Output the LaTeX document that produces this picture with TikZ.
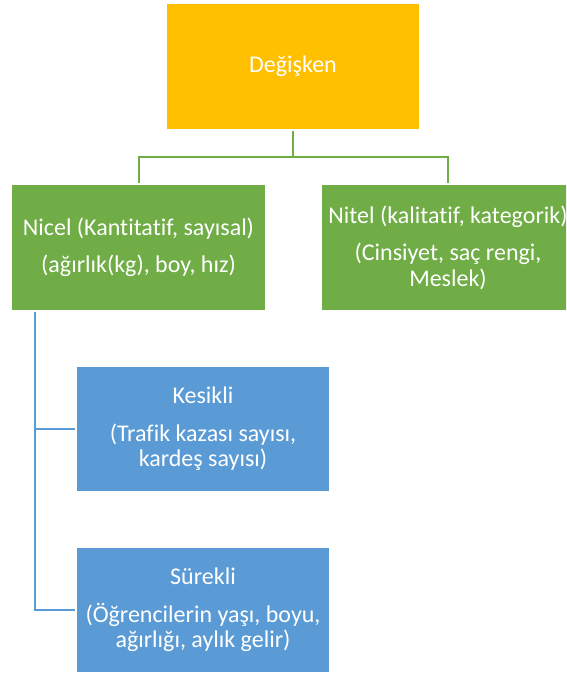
\documentclass[tikz,border=0pt]{standalone}
\usepackage{fontspec}
\setmainfont{Carlito}[Ligatures=NoCommon]
\usepackage{tikz}

\definecolor{sari}{HTML}{FFC000}
\definecolor{yesil}{HTML}{70AD47}
\definecolor{mavi}{HTML}{5B9BD5}

\tikzset{
  kutu/.style={minimum width=252pt, minimum height=125pt, inner sep=0pt,
    outer sep=2pt, text=white, align=center,
    font=\fontsize{24}{25.5}\selectfont},
  baglanti/.style={line width=2pt}
}

\begin{document}
\begin{tikzpicture}[x=1pt,y=-1pt]
\clip (0,0) rectangle (566,675);
\path (293,66.5) node [kutu, fill=sari] (deg) {De\u{g}i\c{s}ken}
		(138.5,247.5) node [kutu, fill=yesil, minimum width=253pt] (nicel) {Nicel (Kantitatif, say\i{}sal)\\[12pt](a\u{g}\i{}rl\i{}k(kg), boy, h\i{}z)}
		(448,247.5) node [kutu, fill=yesil] (nitel) {Nitel (kalitatif, kategorik)\\[12pt](Cinsiyet, sa\c{c} rengi,\\Meslek)}
		(203,429) node [kutu, fill=mavi, minimum height=124pt] (kesikli) {Kesikli\\[12pt](Trafik kazas\i{} say\i{}s\i{},\\karde\c{s} say\i{}s\i{})}
		(203,610) node [kutu, fill=mavi, minimum height=124pt] (surekli) {S\"urekli\\[12pt](\"O\u{g}rencilerin ya\c{s}\i{}, boyu,\\a\u{g}\i{}rl\i{}\u{g}\i{}, ayl\i{}k gelir)}
					;
\draw [baglanti, yesil] (deg.south) -- ++(0,26) -| (nicel.north);
\draw [baglanti, yesil] (deg.south) -- ++(0,26) -| (nitel.north);
\draw [baglanti, mavi] ([xshift=25pt]nicel.south west) |- (kesikli.west);
\draw [baglanti, mavi] ([xshift=25pt]nicel.south west) |- (surekli.west);
\end{tikzpicture}
\end{document}
